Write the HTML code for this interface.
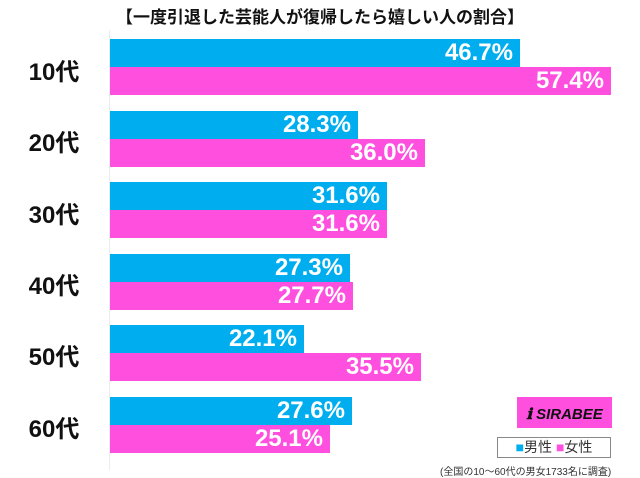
<!DOCTYPE html>
<html><head><meta charset="utf-8"><style>
body{margin:0;width:640px;height:478px;background:#fff;position:relative;overflow:hidden;font-family:"Liberation Sans","Noto Sans CJK JP",sans-serif}
.t{position:absolute;top:3px;left:0;width:640px;text-align:center;font-weight:bold;font-size:17px;color:#111}
.ax{position:absolute;left:109px;top:30px;width:1px;height:440px;background:#e6eef2}
.b{position:absolute;left:110px;height:28px;color:#fff;font-weight:bold;font-size:24px;line-height:28px;text-align:right;box-sizing:border-box;padding-right:7px}
.c{background:#00aeef}.p{background:#ff4fdf}
.l{position:absolute;left:14px;width:80px;font-weight:bold;font-size:24px;color:#111;text-align:center}
</style></head><body>
<div class="t">【一度引退した芸能人が復帰したら嬉しい人の割合】</div>
<div class="ax"></div>
<div class="l" style="top:52px">10代</div>
<div class="b c" style="top:39px;width:410px">46.7%</div>
<div class="b p" style="top:67px;width:501px">57.4%</div>
<div class="l" style="top:123px">20代</div>
<div class="b c" style="top:111px;width:248px">28.3%</div>
<div class="b p" style="top:139px;width:315px">36.0%</div>
<div class="l" style="top:195px">30代</div>
<div class="b c" style="top:182px;width:277px">31.6%</div>
<div class="b p" style="top:210px;width:277px">31.6%</div>
<div class="l" style="top:266px">40代</div>
<div class="b c" style="top:254px;width:240px">27.3%</div>
<div class="b p" style="top:282px;width:243px">27.7%</div>
<div class="l" style="top:337px">50代</div>
<div class="b c" style="top:325px;width:194px">22.1%</div>
<div class="b p" style="top:353px;width:311px">35.5%</div>
<div class="l" style="top:409px">60代</div>
<div class="b c" style="top:397px;width:242px">27.6%</div>
<div class="b p" style="top:425px;width:220px">25.1%</div>
<div style="position:absolute;left:517px;top:397px;width:95px;height:31px;background:#ff4fdf;color:#111;font-weight:bold;font-style:italic;font-size:15px;line-height:36px;text-align:center">ℹ SIRABEE</div>
<div style="position:absolute;left:497px;top:437px;width:114px;height:21px;border:1px solid #888;box-sizing:border-box;font-size:14px;line-height:19px;color:#333;text-align:center"><span style="color:#00aeef">■</span>男性 <span style="color:#ff4fdf">■</span>女性</div>
<div style="position:absolute;left:440px;top:463px;width:200px;font-size:10px;color:#333">(全国の10〜60代の男女1733名に調査)</div>
</body></html>
